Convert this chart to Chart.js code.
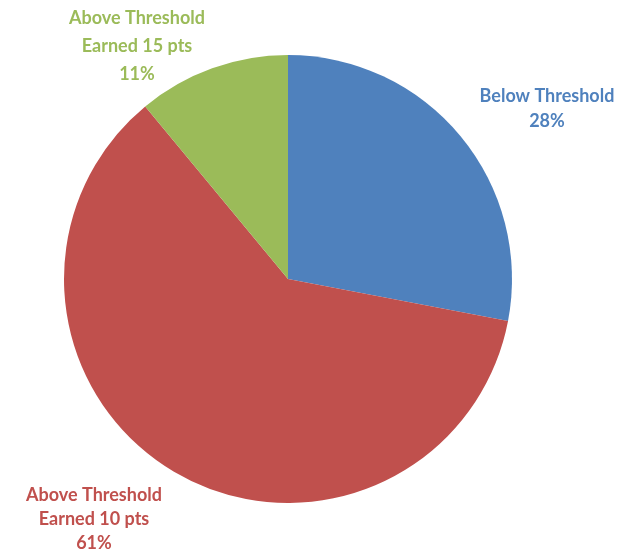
<!DOCTYPE html>
<html>
<head>
<meta charset="utf-8">
<script src="https://cdn.jsdelivr.net/npm/chart.js@4"></script>
<style>
  html, body { margin: 0; padding: 0; background: #fff; }
  #wrap { width: 621px; height: 556px; }
</style>
</head>
<body>
<div id="wrap"><canvas id="grafico" width="621" height="556"></canvas></div>
<script>
// datos del grafico
const categorias = [
    ["Below Threshold"],
    ["Above Threshold", "Earned 10 pts"],
    ["Above Threshold", "Earned 15 pts"]
];
const valores = [28, 61, 11];
const colores = ["#4F81BD", "#C0504D", "#9BBB59"];

// etiquetas de texto alrededor del pastel (posicion relativa al centro)
const etiquetasPlugin = {
    id: "etiquetas",
    afterDatasetsDraw(chart) {
        const ctx = chart.ctx;
        const meta = chart.getDatasetMeta(0);
        const cx = meta.data[0].x;
        const cy = meta.data[0].y;
        const offsets = [[259, -183], [-194, 216], [-151, -261]];
        const interlineas = [25, 24, 28];
        const total = valores.reduce((a, b) => a + b, 0);
        ctx.save();
        ctx.font = "bold 18px Lato, 'Open Sans', sans-serif";
        ctx.textAlign = "center";
        ctx.textBaseline = "middle";
        categorias.forEach((lineas, i) => {
            const pct = Math.round(valores[i] / total * 100) + "%";
            const todas = lineas.concat([pct]);
            ctx.fillStyle = colores[i];
            todas.forEach((t, j) => {
                ctx.fillText(t, cx + offsets[i][0], cy + offsets[i][1] + j * interlineas[i]);
            });
        });
        ctx.restore();
    }
};

const ctx = document.getElementById("grafico").getContext("2d");
new Chart(ctx, {
    type: "pie",
    data: {
        labels: categorias.map(l => l.join(" ")),
        datasets: [{
            data: valores,
            backgroundColor: colores,
            borderWidth: 0
        }]
    },
    options: {
        responsive: false,
        animation: false,
        layout: {
            padding: { left: 64, right: 109, top: 55, bottom: 53 }
        },
        plugins: {
            legend: { display: false },
            tooltip: { enabled: false }
        }
    },
    plugins: [etiquetasPlugin]
});
</script>
</body>
</html>
